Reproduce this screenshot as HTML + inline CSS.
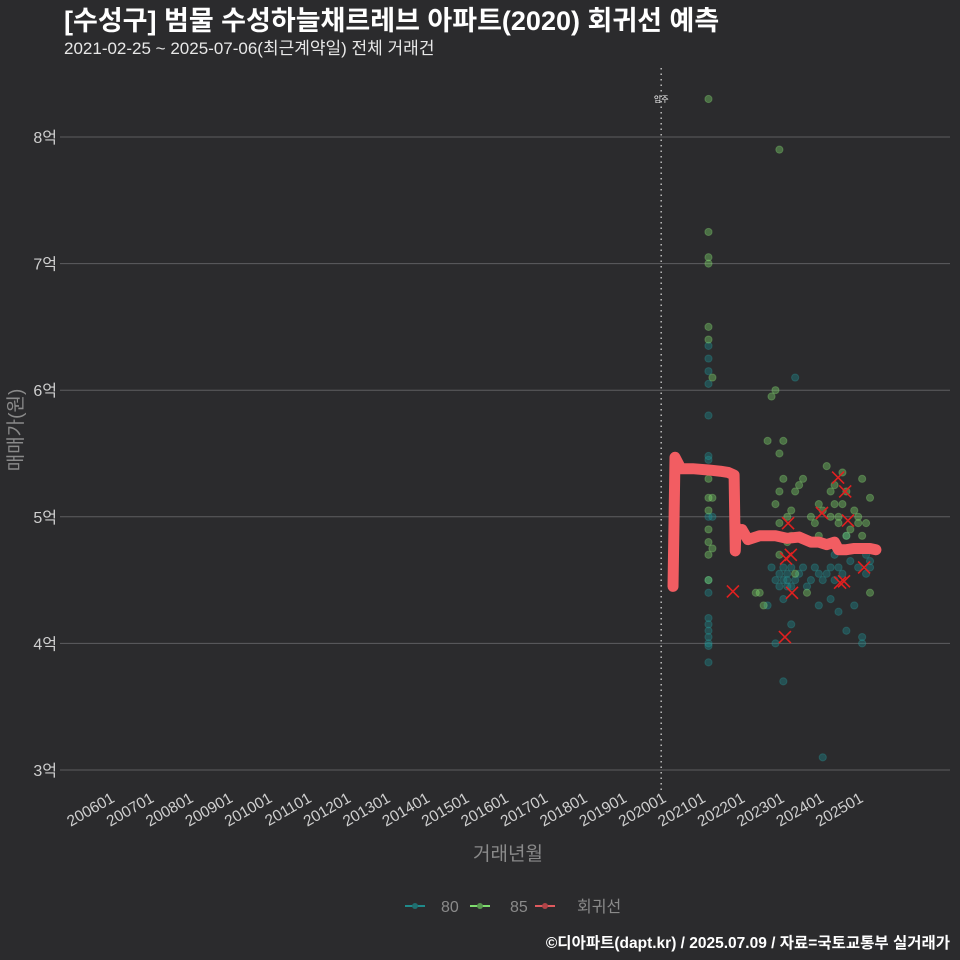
<!DOCTYPE html>
<html><head><meta charset="utf-8">
<style>
body{margin:0;background:#2b2b2d;width:960px;height:960px;overflow:hidden;font-family:"Liberation Sans","Noto Sans CJK KR",sans-serif;}
</style></head>
<body>
<svg id="chart" width="960" height="960" xmlns="http://www.w3.org/2000/svg" style="display:block">
<rect width="960" height="960" fill="#2b2b2d"/>
<text x="64" y="30" fill="#ffffff" font-size="27" font-weight="bold" font-family="Liberation Sans, Noto Sans CJK KR, sans-serif">[수성구] 범물 수성하늘채르레브 아파트(2020) 회귀선 예측</text>
<text x="64" y="54" fill="#e8e8e8" font-size="17" font-family="Liberation Sans, Noto Sans CJK KR, sans-serif">2021-02-25 ~ 2025-07-06(최근계약일) 전체 거래건</text>
<g id="grid"></g>
<g id="yticks"></g>
<g id="xticks"></g>
<g id="marks"></g>
<text transform="translate(22,430) rotate(-90)" text-anchor="middle" fill="#8a8a8a" font-size="19" font-family="Liberation Sans, Noto Sans CJK KR, sans-serif">매매가(원)</text>
<text x="508" y="860" text-anchor="middle" fill="#8a8a8a" font-size="19" font-family="Liberation Sans, Noto Sans CJK KR, sans-serif">거래년월</text>
<g font-family="Liberation Sans, Noto Sans CJK KR, sans-serif" font-size="16" fill="#8a8a8a">
<g><line x1="405" y1="906" x2="425" y2="906" stroke="#1f8a8a" stroke-width="2"/><circle cx="415" cy="906" r="3" fill="#1f6f70"/><text x="441" y="912">80</text></g>
<g><line x1="470" y1="906" x2="490" y2="906" stroke="#7edc6e" stroke-width="2"/><circle cx="480" cy="906" r="3" fill="#5a9a50"/><text x="510" y="912">85</text></g>
<g><line x1="535" y1="906" x2="555" y2="906" stroke="#e05a5e" stroke-width="2"/><circle cx="545" cy="906" r="3" fill="#b04448"/><text x="577" y="912">회귀선</text></g>
</g>
<text x="950" y="948" text-anchor="end" fill="#ffffff" font-size="15.5" font-weight="bold" font-family="Liberation Sans, Noto Sans CJK KR, sans-serif">©디아파트(dapt.kr) / 2025.07.09 / 자료=국토교통부 실거래가</text>
</svg>
<script>
const yTicks=[3,4,5,6,7,8];
const yTickLabels=["3억","4억","5억","6억","7억","8억"];
const xTickYears=[2006,2007,2008,2009,2010,2011,2012,2013,2014,2015,2016,2017,2018,2019,2020,2021,2022,2023,2024,2025];
const xTickLabels=["200601","200701","200801","200901","201001","201101","201201","201301","201401","201501","201601","201701","201801","201901","202001","202101","202201","202301","202401","202501"];
const moveInYear=2020.0;
const pts80Year=[2021.2,2021.2,2021.2,2021.2,2021.2,2021.2,2021.2,2021.2,2021.2,2021.2,2021.2,2021.2,2021.2,2021.2,2021.2,2021.2,2021.2,2021.3,2022.7,2022.8,2022.9,2022.9,2023.0,2023.0,2023.1,2023.1,2023.1,2023.2,2023.2,2023.2,2023.3,2023.3,2023.3,2023.4,2023.5,2023.6,2023.7,2023.8,2023.9,2024.0,2024.0,2024.1,2024.2,2024.3,2024.3,2024.4,2024.4,2024.5,2024.5,2024.6,2024.6,2024.7,2024.8,2024.9,2024.9,2025.0,2025.1,2025.1,2025.2,2025.2,2025.3,2025.3,2023.1,2023.4,2024.1,2024.7];
const pts80Val=[6.35,6.25,6.15,6.05,5.8,5.45,5.0,4.5,4.4,4.2,4.15,4.1,4.05,4.0,3.98,3.85,5.48,5.0,4.3,4.6,4.5,4.0,4.55,4.45,4.6,4.5,4.35,4.5,4.45,4.55,4.15,4.45,4.6,4.5,4.55,4.6,4.45,4.5,4.6,4.55,4.3,4.5,4.55,4.6,4.35,4.5,4.7,4.25,4.6,4.55,4.75,4.1,4.65,4.3,4.75,4.6,4.05,4.0,4.7,4.55,4.6,4.65,3.7,6.1,3.1,4.85];
const pts85Year=[2021.2,2021.2,2021.2,2021.2,2021.2,2021.2,2021.2,2021.2,2021.2,2021.2,2021.2,2021.2,2021.2,2021.3,2021.3,2021.3,2022.5,2022.6,2022.7,2022.8,2022.9,2022.9,2023.0,2023.0,2023.0,2023.0,2023.1,2023.1,2023.2,2023.2,2023.3,2023.3,2023.4,2023.4,2023.5,2023.6,2023.7,2023.8,2023.9,2024.0,2024.0,2024.1,2024.2,2024.3,2024.3,2024.4,2024.4,2024.5,2024.5,2024.6,2024.6,2024.7,2024.7,2024.8,2024.9,2024.9,2025.0,2025.0,2025.1,2025.1,2025.2,2025.2,2025.3,2025.3,2023.0,2022.4];
const pts85Val=[8.3,7.25,7.05,7.0,6.5,6.4,5.3,5.15,5.05,4.9,4.8,4.7,4.5,6.1,4.75,5.15,4.4,4.3,5.6,5.95,6.0,5.1,5.5,5.2,4.7,4.95,5.6,5.3,5.0,4.8,5.05,4.85,5.2,4.55,5.25,5.3,4.4,5.0,4.95,5.1,4.85,5.05,5.4,5.0,5.2,5.25,5.1,4.95,5.0,5.35,5.1,4.85,5.2,4.9,5.05,4.75,4.95,5.0,4.85,5.3,4.95,4.75,5.15,4.4,7.9,4.4];
const regYear=[2020.3,2020.35,2020.5,2020.8,2021.2,2021.5,2021.7,2021.85,2021.88,2021.9,2021.95,2022.05,2022.2,2022.5,2022.9,2023.2,2023.5,2023.8,2024.0,2024.2,2024.4,2024.5,2024.7,2024.9,2025.1,2025.3,2025.45];
const regVal=[4.45,5.47,5.38,5.38,5.37,5.36,5.35,5.33,4.73,4.92,4.88,4.9,4.82,4.85,4.85,4.83,4.84,4.8,4.8,4.78,4.8,4.74,4.74,4.75,4.75,4.75,4.74];
const outYear=[2024.49,2024.67,2024.08,2024.74,2023.22,2023.29,2023.17,2023.32,2021.82,2023.14,2024.54,2024.64,2025.15];
const outVal=[5.31,5.2,5.03,4.97,4.95,4.7,4.67,4.4,4.41,4.05,4.48,4.49,4.6];

const NS="http://www.w3.org/2000/svg";
function xS(t){return 109.6+(t-2006)*39.4;}
function yS(v){return 770-(v-3)*126.6;}
function mk(tag,attrs,parent){const e=document.createElementNS(NS,tag);for(const k in attrs)e.setAttribute(k,attrs[k]);parent.appendChild(e);return e;}
const grid=document.getElementById('grid'),yt=document.getElementById('yticks'),xt=document.getElementById('xticks'),marks=document.getElementById('marks');
yTicks.forEach((v,i)=>{
  const l=mk('line',{x1:60,x2:950,y1:yS(v),y2:yS(v),stroke:'#5e5e60','stroke-width':1},grid);
  
  
  const t=mk('text',{x:57,y:yS(v)+6,'text-anchor':'end',fill:'#cfcfcf','font-size':16,'font-family':'Liberation Sans, Noto Sans CJK KR, sans-serif'},yt);
  t.textContent=yTickLabels[i];
  
  
});
xTickYears.forEach((y,i)=>{
  const x=xS(y);
  const t=mk('text',{transform:`translate(${x+6},${801}) rotate(-30)`,'text-anchor':'end',fill:'#cfcfcf','font-size':15.5,'font-family':'Liberation Sans, sans-serif'},xt);
  t.textContent=xTickLabels[i];
  
  
});
const ml=mk('line',{x1:xS(moveInYear),x2:xS(moveInYear),y1:68,y2:790,stroke:'#bbbbbb','stroke-width':1.5,'stroke-dasharray':'1.5,4'},marks);


const mt=mk('text',{x:xS(moveInYear),y:102,'text-anchor':'middle',fill:'#ffffff','font-size':8,'font-family':'Noto Sans CJK KR, sans-serif'},marks);
mt.textContent='입주';


pts80Year.forEach((t,i)=>{
  const c=mk('circle',{cx:xS(t),cy:yS(pts80Val[i]),r:3.6,fill:'#1f8a8c','fill-opacity':0.4,stroke:'#2aa0a0','stroke-opacity':0.3},marks);
  
  
});
pts85Year.forEach((t,i)=>{
  const c=mk('circle',{cx:xS(t),cy:yS(pts85Val[i]),r:3.6,fill:'#7ed86a','fill-opacity':0.4,stroke:'#8fe07a','stroke-opacity':0.3},marks);
  
  
});
const p=mk('polyline',{points:regYear.map((t,i)=>xS(t)+','+yS(regVal[i])).join(' '),fill:'none',stroke:'#f25d62','stroke-width':11,'stroke-linejoin':'round','stroke-linecap':'round'},marks);


outYear.forEach((t,i)=>{
  const x=xS(t),y=yS(outVal[i]);
  const g=mk('path',{d:`M${x-6},${y-6}L${x+6},${y+6}M${x+6},${y-6}L${x-6},${y+6}`,stroke:'#e02020','stroke-width':1.6},marks);
  
  
});
</script>
</body></html>
